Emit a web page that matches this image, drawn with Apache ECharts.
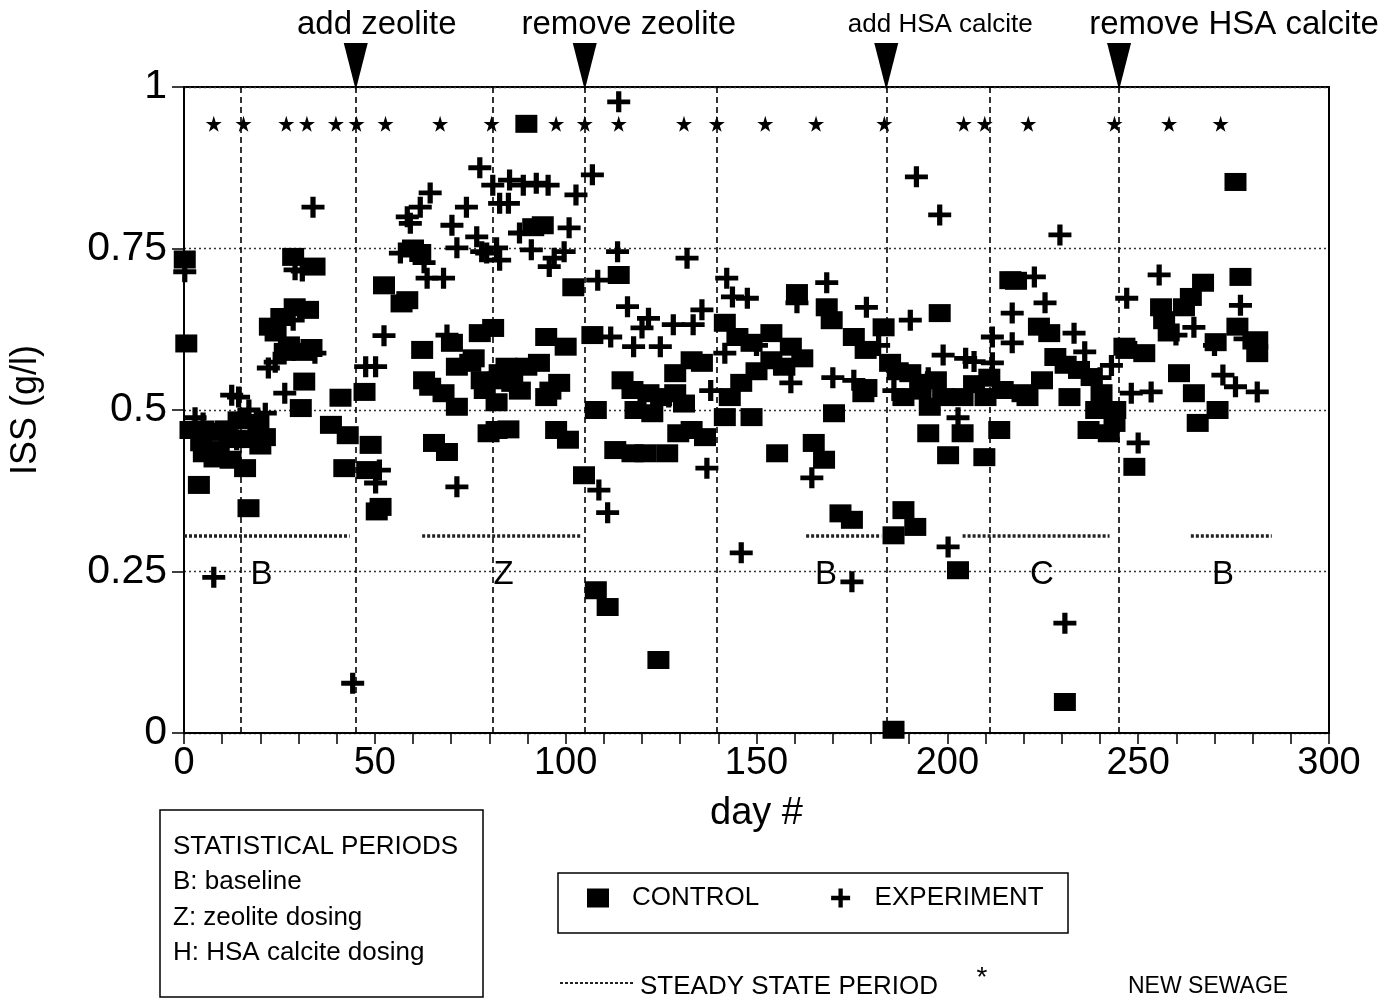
<!DOCTYPE html>
<html>
<head>
<meta charset="utf-8">
<script src="https://cdn.jsdelivr.net/npm/echarts@6/dist/echarts.min.js"></script>
<style>
  html, body { margin: 0; padding: 0; background: #fff; }
  #chart { width: 1385px; height: 1002px; }
</style>
</head>
<body>
<div id="chart"></div>
<script>
// ISS (g/l) measured in the control and experiment reactors, by day
const controlPoints = [
  [0.2,0.733],[0.6,0.603],[1.7,0.469],[3.9,0.384],[4.5,0.45],[5.2,0.433],[7.3,0.466],[8,0.425],[9.1,0.438],
  [11,0.47],[12.2,0.423],[13,0.455],[14.3,0.484],[16,0.41],[16.9,0.348],[18,0.455],[19.5,0.48],[20,0.445],[21.2,0.458],
  [22.5,0.629],[24,0.62],[25.5,0.644],[26.4,0.59],[27.5,0.6],[28.6,0.737],[29,0.659],[30.6,0.503],[31,0.59],
  [31.5,0.544],[32.5,0.655],[33.4,0.596],[34.2,0.722],[38.5,0.477],[41,0.519],[42,0.41],[42.9,0.461],
  [47.3,0.528],[48,0.407],[48.9,0.446],[50.5,0.343],[51.5,0.35],[52.4,0.693],[57,0.665],[58.5,0.67],[60,0.75],
  [61.9,0.743],[62.4,0.593],[62.9,0.546],[64.5,0.536],[65.5,0.449],[68,0.526],[68.9,0.435],[70.2,0.604],
  [71.5,0.505],[71.5,0.567],[75,0.573],[75.9,0.58],[77.5,0.619],[78,0.546],[78.8,0.531],[79.8,0.464],
  [81,0.627],[81.9,0.469],[81.9,0.512],[82.4,0.546],[82.7,0.557],[84.5,0.567],[85,0.47],[86,0.542],[88,0.53],
  [89.7,0.567],[89.7,0.943],[91.5,0.783],[93,0.573],[94,0.786],[94.9,0.613],[94.9,0.52],[96,0.53],[97.5,0.469],
  [98.3,0.542],[100,0.598],[100.6,0.454],[102,0.69],
  [104.8,0.399],[107,0.616],[107.9,0.5],[107.9,0.221],[111,0.195],[113,0.438],[113.9,0.709],[114.9,0.546],
  [117.5,0.531],[117.5,0.433],[118.3,0.5],[120.9,0.433],[121.7,0.526],[122.7,0.495],[124.3,0.113],[125,0.52],
  [126.6,0.433],[128.7,0.557],[128.7,0.526],[129.5,0.464],[131,0.51],[133,0.577],[133,0.469],[135.7,0.573],[136.5,0.458],
  [141.7,0.635],[141.7,0.489],[143,0.52],[145,0.613],[146,0.542],[148.7,0.604],[148.7,0.489],[150,0.56],
  [153.9,0.619],[153.9,0.577],[155.4,0.433],[157.3,0.567],[159,0.598],[160.6,0.681],[162,0.58],[165,0.449],
  [167.7,0.423],[168.4,0.659],[169.7,0.639],[170.3,0.495],[172,0.34],[175,0.33],[175.5,0.613],[178,0.526],
  [178.6,0.593],[178.8,0.534],[183.3,0.628],[185,0.573],[185.9,0.306],[185.9,0.005],
  [187,0.56],[188.5,0.52],[188.5,0.345],[190.3,0.557],[191.6,0.319],[192.9,0.542],[193,0.53],[195,0.464],
  [195.4,0.505],[197,0.546],[198,0.65],[198.9,0.52],[200.2,0.43],[202.8,0.252],[204,0.52],[204,0.464],
  [207,0.54],[209.7,0.427],[210,0.52],[211,0.55],[213.6,0.469],[214.5,0.531],
  [216.5,0.701],[218,0.7],[219.7,0.526],[221,0.52],[224,0.629],[224.8,0.546],[226.7,0.619],[228.3,0.582],
  [230.8,0.048],[231,0.57],[232,0.52],[234.5,0.562],[237,0.469],[237.8,0.551],[239,0.5],[240.4,0.526],
  [242.3,0.464],[243.8,0.48],[244,0.5],[246.4,0.598],[246.9,0.593],[249,0.412],
  [251.6,0.588],[256,0.659],[256.8,0.639],[258,0.62],[260.7,0.557],[262,0.659],[263.8,0.675],[264.6,0.526],
  [265.6,0.48],[267,0.697],[270.3,0.605],[270.8,0.5],[275.5,0.853],[276,0.629],[276.8,0.706],[281.2,0.608],[281.2,0.588]
];
const experimentPoints = [
  [0.2,0.714],[2.9,0.488],[5,0.48],[6.5,0.466],[7.8,0.241],[9.9,0.466],[12.5,0.523],[13.8,0.454],[14.3,0.52],
  [17,0.5],[21.3,0.495],[22.1,0.565],[23.9,0.574],[26.4,0.526],[28.6,0.639],[29.1,0.717],[31,0.715],
  [33.8,0.814],[34.3,0.588],[44.2,0.077],
  [47.6,0.567],[50.2,0.567],[50.2,0.387],[51.2,0.407],[52.4,0.615],[56.7,0.743],[58.5,0.799],[59.3,0.789],
  [61.9,0.814],[62.9,0.728],[63.7,0.704],[64.5,0.836],[68,0.704],[68.9,0.616],[70.2,0.786],[71.5,0.381],
  [71.5,0.751],[74,0.814],[76.7,0.768],[77.5,0.875],[78,0.745],[79.3,0.743],
  [80.9,0.848],[81.9,0.751],[82.7,0.732],[82.7,0.82],[85,0.82],[85.3,0.856],[87.9,0.774],[88.9,0.848],
  [91,0.748],[92.3,0.851],[95.4,0.848],[95.7,0.722],[97,0.735],[99.6,0.745],[100.9,0.782],[102.7,0.833],
  [107,0.864],[108.4,0.701],[108.7,0.376],[111,0.341],[111.8,0.613],[113.6,0.745],[113.9,0.977],[116.2,0.66],
  [117.8,0.598],[120,0.627],[121.7,0.642],[124.8,0.598],[127,0.52],[128.2,0.632],[131.8,0.735],[133.4,0.632],
  [135.7,0.655],[137,0.41],[138,0.53],[141.7,0.588],[142.2,0.704],[143.7,0.675],[146,0.279],[147.6,0.673],
  [150,0.6],[155,0.57],[159,0.542],[160.6,0.666],[164.5,0.395],[168.4,0.697],[170,0.55],[175,0.234],
  [175.5,0.546],[178.8,0.659],[182,0.6],
  [186,0.53],[190.3,0.639],[191.9,0.861],[195,0.55],[198,0.802],[198.9,0.585],[200.2,0.288],[202.8,0.488],
  [204.8,0.58],[207,0.575],[211.8,0.613],[211.8,0.573],[217,0.65],[217,0.604],[222.8,0.706],[225.6,0.666],
  [229.5,0.771],[230.8,0.17],[233.2,0.619],[236,0.59],[240,0.55],[243,0.569],[247,0.673],[248.2,0.526],[250,0.449],
  [253.4,0.528],[255.5,0.709],[259.9,0.616],[264.6,0.628],[270,0.6],[272.2,0.554],[275.5,0.536],[276.8,0.662],
  [278,0.61],[281.2,0.528]
];

// days on which new sewage was added (drawn as stars along the top)
const sewageDays = [7.8,15.6,26.8,32.2,39.8,45.2,52.8,67.1,80.6,97.5,105,113.9,131,139.6,152.3,165.6,183.5,204.3,209.8,221.2,243.8,258.1,271.6];
const sewageLevel = 0.943;

// boundaries between statistical periods
const phaseLineDays = [15, 45, 81, 105, 139.5, 184, 211, 245];

// steady state periods [start day, end day]
const steadyStatePeriods = [[0,43.4],[62.4,104],[163,182.7],[204,242.5],[263.8,285]];
const steadyStateLevel = 0.305;

// statistical period letters and the day they are centred on
const periodLetters = ['B','Z','B','C','B'];
const periodLetterDays = [20.3, 83.7, 168.2, 224.8, 272.2];
const periodLetterLevel = 0.245;

// treatment events marked with arrows above the plot
const eventDays = [45, 105, 184, 245];
const eventNames = ['add zeolite', 'remove zeolite', 'add HSA calcite', 'remove HSA calcite'];

const xTickLabels = ['0','50','100','150','200','250','300'];
const yTickLabels = ['0','0.25','0.5','0.75','1'];

// ---------------------------------------------------------------------------
const FONT = "'Liberation Sans', Arial, Helvetica, sans-serif";
const plusPath = 'path://M0,8.5H8.5V0h5v8.5H22v5H13.5V22h-5V13.5H0z';
const starPath = 'path://M50,0L61,35L98,35L68,57L79,91L50,70L21,91L32,57L2,35L39,35Z';

const chart = echarts.init(document.getElementById('chart'), null, { renderer: 'canvas' });

const guideLines = [];
phaseLineDays.forEach(d => guideLines.push({
  xAxis: d,
  lineStyle: { type: [6, 4], color: '#000', width: 1.6 }
}));
steadyStatePeriods.forEach(([a, b]) => guideLines.push([
  { coord: [a, steadyStateLevel], lineStyle: { type: [3, 2], color: '#222', width: 3.5 } },
  { coord: [b, steadyStateLevel] }
]));

const solid = { color: '#000', opacity: 1 };

const option = {
  animation: false,
  backgroundColor: '#fff',
  textStyle: { fontFamily: FONT, color: '#000' },
  grid: {
    left: 175, right: 56, top: 87, bottom: 269,
    show: true, borderColor: '#000', borderWidth: 2, backgroundColor: 'transparent'
  },
  legend: {
    left: 582, top: 880,
    itemGap: 72, itemWidth: 22, itemHeight: 19,
    itemStyle: { opacity: 1, color: '#000' },
    textStyle: { fontSize: 26, fontFamily: FONT, color: '#000', padding: [0, 0, 0, 18] },
    data: [
      { name: 'CONTROL', icon: 'rect' },
      { name: 'EXPERIMENT', icon: plusPath }
    ]
  },
  xAxis: {
    type: 'value', min: 0, max: 300, interval: 50,
    name: 'day #', nameLocation: 'middle', nameGap: 62,
    nameTextStyle: { fontSize: 38, fontFamily: FONT, color: '#000' },
    axisLine: { show: true, onZero: false, lineStyle: { color: '#000', width: 2 } },
    axisTick: { show: true, length: 11, lineStyle: { color: '#000', width: 1.5 } },
    minorTick: { show: true, splitNumber: 5, length: 11, lineStyle: { color: '#000', width: 1.5 } },
    axisLabel: {
      fontSize: 38, fontFamily: FONT, color: '#000', margin: 12,
      formatter: v => xTickLabels[Math.round(v / 50)]
    },
    splitLine: { show: false }
  },
  yAxis: {
    type: 'value', min: 0, max: 1, interval: 0.25,
    name: 'ISS (g/l)', nameLocation: 'middle', nameGap: 140, nameRotate: 90,
    nameTextStyle: { fontSize: 36, fontFamily: FONT, color: '#000' },
    axisLine: { show: true, lineStyle: { color: '#000', width: 2 } },
    axisTick: { show: true, length: 12, lineStyle: { color: '#000', width: 1.5 } },
    axisLabel: {
      fontSize: 41, fontFamily: FONT, color: '#000', margin: 17,
      formatter: v => yTickLabels[Math.round(v / 0.25)]
    },
    splitLine: { show: true, lineStyle: { type: [2, 3], color: '#333', width: 1.3 } }
  },
  series: [
    {
      name: 'guides', type: 'scatter', data: [], silent: true,
      markLine: {
        silent: true, symbol: ['none', 'none'], label: { show: false },
        animation: false, data: guideLines
      }
    },
    {
      name: 'CONTROL', type: 'scatter', data: controlPoints,
      symbol: 'rect', symbolSize: [22, 18],
      itemStyle: solid, z: 3
    },
    {
      name: 'EXPERIMENT', type: 'scatter', data: experimentPoints,
      symbol: plusPath, symbolSize: [23, 21],
      itemStyle: solid, z: 4
    },
    {
      name: 'NEW SEWAGE', type: 'scatter',
      data: sewageDays.map(d => [d, sewageLevel]),
      symbol: starPath, symbolSize: 16,
      itemStyle: solid, z: 5
    },
    {
      name: 'periods', type: 'scatter',
      data: periodLetterDays.map((d, i) => [d, periodLetterLevel, periodLetters[i]]),
      symbolSize: 1, itemStyle: { color: 'rgba(0,0,0,0)', opacity: 1 },
      label: {
        show: true, position: 'inside', formatter: p => p.data[2],
        fontSize: 33, fontFamily: FONT, color: '#000', opacity: 1
      }, z: 5
    }
  ]
};
chart.setOption(option);

// event arrows and their captions, placed through the axes above the plot
const captionShift = [21, 44, 54, 115];
const captionSize = [33, 33, 26, 33];
const eventGraphics = [];
eventDays.forEach((d, i) => {
  const [x, y] = chart.convertToPixel({ xAxisIndex: 0, yAxisIndex: 0 }, [d, 1]);
  eventGraphics.push({
    type: 'polygon',
    shape: { points: [[x - 12, y - 44], [x + 12, y - 44], [x, y + 3]] },
    style: { fill: '#000' }, z: 10
  });
  eventGraphics.push({
    type: 'text', x: x + captionShift[i], y: y - 62,
    style: {
      text: eventNames[i], fontSize: captionSize[i], fontFamily: FONT,
      fill: '#000', align: 'center', verticalAlign: 'middle'
    }, z: 10
  });
});

// statistical periods box and the steady state / sewage key
const keyGraphics = [
  { type: 'rect', shape: { x: 160, y: 810, width: 323, height: 187 },
    style: { fill: 'none', stroke: '#000', lineWidth: 1.5 } },
  { type: 'text', x: 173, y: 847, style: { text: 'STATISTICAL PERIODS', fontSize: 26, fontFamily: FONT, fill: '#000', verticalAlign: 'middle' } },
  { type: 'text', x: 173, y: 882, style: { text: 'B: baseline', fontSize: 26, fontFamily: FONT, fill: '#000', verticalAlign: 'middle' } },
  { type: 'text', x: 173, y: 918, style: { text: 'Z: zeolite dosing', fontSize: 26, fontFamily: FONT, fill: '#000', verticalAlign: 'middle' } },
  { type: 'text', x: 173, y: 953, style: { text: 'H: HSA calcite dosing', fontSize: 26, fontFamily: FONT, fill: '#000', verticalAlign: 'middle' } },
  { type: 'rect', shape: { x: 558, y: 873, width: 510, height: 60 },
    style: { fill: 'none', stroke: '#000', lineWidth: 1.5 } },
  { type: 'line', shape: { x1: 560, y1: 983, x2: 633, y2: 983 },
    style: { stroke: '#222', lineWidth: 2, lineDash: [3, 2] } },
  { type: 'text', x: 640, y: 987, style: { text: 'STEADY STATE PERIOD', fontSize: 26, fontFamily: FONT, fill: '#000', verticalAlign: 'middle' } },
  { type: 'text', x: 982, y: 978, style: { text: '*', fontSize: 28, fontFamily: FONT, fill: '#000', align: 'center', verticalAlign: 'middle' } },
  { type: 'text', x: 1128, y: 987, style: { text: 'NEW SEWAGE', fontSize: 23, fontFamily: FONT, fill: '#000', verticalAlign: 'middle' } }
];

chart.setOption({ graphic: { elements: eventGraphics.concat(keyGraphics) } });
</script>
</body>
</html>
